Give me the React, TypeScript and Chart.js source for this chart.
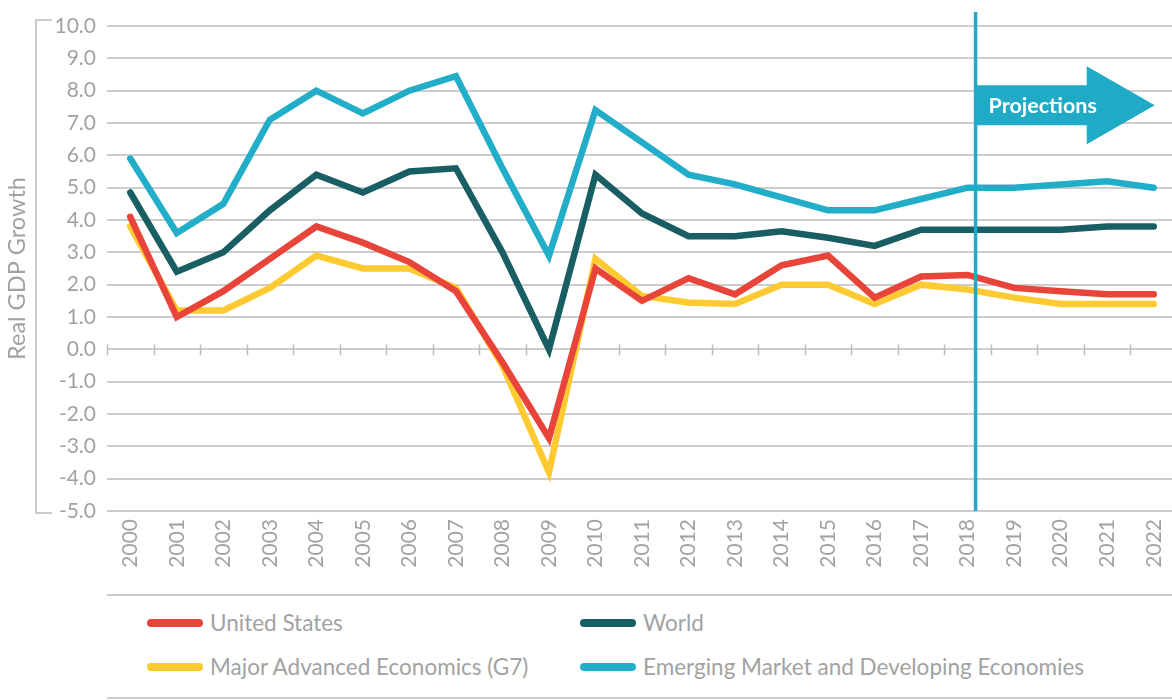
import React, { useEffect, useRef } from "react";
import { Chart, registerables } from "chart.js";

Chart.register(...registerables);

const years = [
  "2000", "2001", "2002", "2003", "2004", "2005", "2006", "2007", "2008", "2009", "2010", "2011",
  "2012", "2013", "2014", "2015", "2016", "2017", "2018", "2019", "2020", "2021", "2022",
];

const unitedStates = [4.1, 1.0, 1.8, 2.8, 3.8, 3.3, 2.7, 1.8, -0.4, -2.75, 2.5, 1.5, 2.2, 1.7, 2.6, 2.9, 1.6, 2.25, 2.3, 1.9, 1.8, 1.7, 1.7];
const majorAdvanced = [3.8, 1.2, 1.2, 1.9, 2.9, 2.5, 2.5, 1.9, -0.5, -3.8, 2.8, 1.65, 1.45, 1.4, 2.0, 2.0, 1.4, 2.0, 1.85, 1.6, 1.4, 1.4, 1.4];
const world = [4.85, 2.4, 3.0, 4.3, 5.4, 4.85, 5.5, 5.6, 3.0, 0.0, 5.4, 4.2, 3.5, 3.5, 3.65, 3.45, 3.2, 3.7, 3.7, 3.7, 3.7, 3.8, 3.8];
const emerging = [5.9, 3.6, 4.5, 7.1, 8.0, 7.3, 8.0, 8.45, 5.6, 2.9, 7.4, 6.4, 5.4, 5.1, 4.7, 4.3, 4.3, 4.65, 5.0, 5.0, 5.1, 5.2, 5.0];

const seriesNames = [
  "United States",
  "World",
  "Major Advanced Economics (G7)",
  "Emerging Market and Developing Economies",
];
const seriesColors = ["#e8443a", "#185e63", "#fdca32", "#22adc8"];

const yMin = -5;
const yMax = 10;
const projectionStartIndex = 18;
const projectionLabel = "Projections";
const yAxisTitle = "Real GDP Growth";

const FONT = "Lato, 'Open Sans', sans-serif";
const TEXT_GRAY = "#a2a2a2";
const GRID_GRAY = "#cdcdcd";

const decorPlugin = {
  id: "decor",
  beforeDatasetsDraw(chart: any) {
    const { ctx, chartArea, scales } = chart;
    const y = scales.y;
    const n = years.length;
    const w = (chartArea.right - chartArea.left) / n;
    const y0 = y.getPixelForValue(0);
    ctx.save();
    ctx.strokeStyle = "#bdbdbd";
    ctx.lineWidth = 1.5;
    for (let i = 0; i <= n; i++) {
      const px = Math.round(chartArea.left + i * w) + 0.5;
      ctx.beginPath();
      ctx.moveTo(px, y0 - 5);
      ctx.lineTo(px, y0 + 6);
      ctx.stroke();
    }
    // bracket at left
    ctx.strokeStyle = "#bcbcbc";
    ctx.lineWidth = 1.5;
    ctx.beginPath();
    ctx.moveTo(52, chartArea.top - 6);
    ctx.lineTo(36, chartArea.top - 6);
    ctx.lineTo(36, chartArea.bottom + 2);
    ctx.lineTo(52, chartArea.bottom + 2);
    ctx.stroke();
    ctx.restore();
  },
  afterDatasetsDraw(chart: any) {
    const { ctx, chartArea, scales } = chart;
    const x = scales.x;
    const y = scales.y;
    const n = years.length;
    const w = (chartArea.right - chartArea.left) / n;
    const lineX = x.getPixelForValue(projectionStartIndex) + 0.17 * w;
    const color = "#1fabc6";
    ctx.save();
    ctx.strokeStyle = color;
    ctx.lineWidth = 3.5;
    ctx.beginPath();
    ctx.moveTo(lineX, 12);
    ctx.lineTo(lineX, chartArea.bottom);
    ctx.stroke();

    // arrow
    const tipX = x.getPixelForValue(years.length - 1) + 1;
    const headBase = tipX - 68;
    const cy = y.getPixelForValue(7.55);
    const bodyHalf = 20;
    const headHalf = 39;
    ctx.fillStyle = color;
    ctx.beginPath();
    ctx.moveTo(lineX, cy - bodyHalf);
    ctx.lineTo(headBase, cy - bodyHalf);
    ctx.lineTo(headBase, cy - headHalf);
    ctx.lineTo(tipX, cy);
    ctx.lineTo(headBase, cy + headHalf);
    ctx.lineTo(headBase, cy + bodyHalf);
    ctx.lineTo(lineX, cy + bodyHalf);
    ctx.closePath();
    ctx.fill();

    ctx.fillStyle = "#ffffff";
    ctx.font = "bold 21.5px " + FONT;
    ctx.textAlign = "left";
    ctx.textBaseline = "middle";
    ctx.fillText(projectionLabel, lineX + 13, cy + 1);
    ctx.restore();
  },
};

function App() {
  const canvasRef = useRef<HTMLCanvasElement | null>(null);

  useEffect(() => {
    const canvas = canvasRef.current;
    if (!canvas) return;
    const seriesData = [unitedStates, world, majorAdvanced, emerging];
    const order = [3, 1, 0, 2];
    const chart = new Chart(canvas, {
      type: "line",
      data: {
        labels: years,
        datasets: order.map((k) => ({
          label: seriesNames[k],
          data: seriesData[k],
          borderColor: seriesColors[k],
          backgroundColor: seriesColors[k],
          borderWidth: 6.5,
          pointRadius: 0,
          pointHoverRadius: 0,
          tension: 0,
          fill: false,
          borderCapStyle: "round" as const,
          borderJoinStyle: "miter" as const,
        })),
      },
      options: {
        responsive: false,
        animation: false,
        devicePixelRatio: 1,
        layout: { padding: { left: 0, right: 2, top: 26, bottom: 0 } },
        plugins: {
          legend: { display: false },
          tooltip: { enabled: false },
        },
        scales: {
          x: {
            type: "category",
            offset: true,
            grid: { display: false, drawTicks: false },
            border: { display: false },
            ticks: {
              color: TEXT_GRAY,
              font: { family: FONT, size: 21 },
              maxRotation: 90,
              minRotation: 90,
              autoSkip: false,
              padding: 8,
            },
            afterFit: (s: any) => {
              s.height = 79;
            },
          },
          y: {
            min: yMin,
            max: yMax,
            grid: { color: GRID_GRAY, lineWidth: 2, drawTicks: false },
            border: { display: false },
            ticks: {
              stepSize: 1,
              color: TEXT_GRAY,
              font: { family: FONT, size: 21 },
              padding: 11,
              callback: (v: any) => Number(v).toFixed(1),
            },
            title: {
              display: true,
              text: yAxisTitle,
              color: TEXT_GRAY,
              font: { family: FONT, size: 23.5 },
              padding: { top: 3, bottom: 0 },
            },
            afterFit: (s: any) => {
              s.width = 107;
            },
          },
        },
      },
      plugins: [decorPlugin],
    });
    return () => chart.destroy();
  }, []);

  const legendRows = [
    [0, 1],
    [2, 3],
  ];
  const rowY = [623, 667];
  const colX = [147, 580];

  return (
    <div
      style={{
        position: "absolute",
        left: 0,
        top: 0,
        width: 1172,
        height: 700,
        overflow: "hidden",
        background: "#ffffff",
        fontFamily: FONT,
      }}
    >
      <canvas ref={canvasRef} width={1187} height={590} style={{ position: "absolute", left: 0, top: 0, width: 1187, height: 590 }} />
      <div style={{ position: "absolute", left: 107, top: 594, width: 1070, height: 0, borderTop: "2px solid #cdcdcd" }} />
      <div style={{ position: "absolute", left: 107, top: 697, width: 1070, height: 0, borderTop: "2px solid #cdcdcd" }} />
      {legendRows.map((row, r) =>
        row.map((k, c) => (
          <div
            key={k}
            style={{
              position: "absolute",
              left: colX[c],
              top: rowY[r] - 15,
              height: 30,
              display: "flex",
              alignItems: "center",
              whiteSpace: "nowrap",
            }}
          >
            <div style={{ width: 56, height: 8, borderRadius: 4, background: seriesColors[k], marginRight: 7 }} />
            <span style={{ fontSize: 22.5, color: TEXT_GRAY, lineHeight: "30px" }}>{seriesNames[k]}</span>
          </div>
        ))
      )}
    </div>
  );
}

export default App;
